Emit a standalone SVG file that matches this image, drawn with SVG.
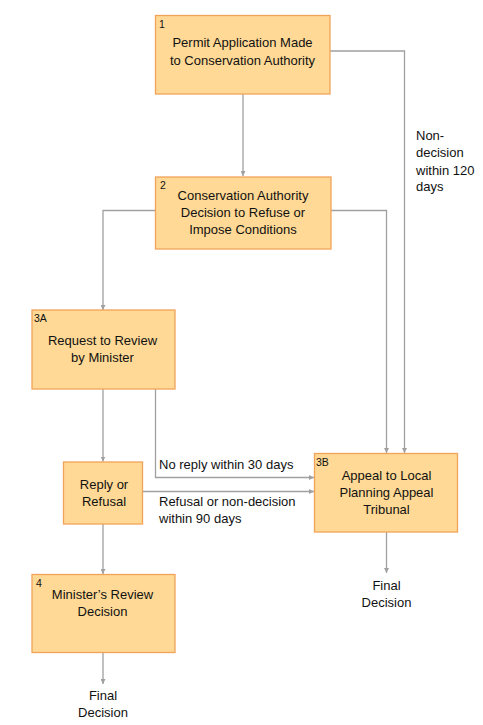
<svg xmlns="http://www.w3.org/2000/svg" width="483" height="725" viewBox="0 0 483 725">
<defs>
<style>
.box{fill:#FFD995;stroke:#F2A35A;stroke-width:1.3}
.t{font-family:"Liberation Sans",Arial,sans-serif;font-size:13px;fill:#111;text-anchor:middle}
.l{font-family:"Liberation Sans",Arial,sans-serif;font-size:13px;fill:#111}
.n{font-family:"Liberation Sans",Arial,sans-serif;font-size:10.5px;fill:#111}
.c{fill:none;stroke:#A0A0A0;stroke-width:1.3}
</style>
<marker id="ah" viewBox="0 0 10 10" refX="10" refY="5" markerWidth="5" markerHeight="5" orient="auto" markerUnits="userSpaceOnUse">
<path d="M0,0 L10,5 L0,10 Z" fill="#A0A0A0"/>
</marker>
</defs>
<rect width="483" height="725" fill="#fff"/>
<g id="connectors">
<path class="c" d="M243,94 V176" marker-end="url(#ah)"/>
<path class="c" d="M330,51 H404.5 V453" marker-end="url(#ah)"/>
<path class="c" d="M331,210.5 H386.5 V453" marker-end="url(#ah)"/>
<path class="c" d="M155,210.5 H103 V310" marker-end="url(#ah)"/>
<path class="c" d="M103,389 V461.5" marker-end="url(#ah)"/>
<path class="c" d="M155.5,389 V477.5 H314" marker-end="url(#ah)"/>
<path class="c" d="M143,491.5 H314" marker-end="url(#ah)"/>
<path class="c" d="M103,524 V574" marker-end="url(#ah)"/>
<path class="c" d="M103,652 V684" marker-end="url(#ah)"/>
<path class="c" d="M386.5,532 V573" marker-end="url(#ah)"/>
<text class="l" x="159" y="469">No reply within 30 days</text>
<text class="l" x="159" y="506">Refusal or non-decision</text>
<text class="l" x="159" y="523">within 90 days</text>
<text class="l" x="416" y="139.5">Non-</text>
<text class="l" x="416" y="157">decision</text>
<text class="l" x="416" y="174.5">within 120</text>
<text class="l" x="416" y="191">days</text>
</g>
<g id="node1">
<rect class="box" x="155.5" y="15.5" width="174.5" height="78.5"/>
<text class="n" x="159" y="28">1</text>
<text class="t" x="242.5" y="47">Permit Application Made</text>
<text class="t" x="242.5" y="64.5">to Conservation Authority</text>
</g>
<g id="node2">
<rect class="box" x="155.5" y="177" width="175.5" height="72"/>
<text class="n" x="160" y="189">2</text>
<text class="t" x="243" y="200">Conservation Authority</text>
<text class="t" x="243" y="217">Decision to Refuse or</text>
<text class="t" x="243" y="234">Impose Conditions</text>
</g>
<g id="node3A">
<rect class="box" x="32" y="310" width="143" height="79"/>
<text class="n" x="34" y="322">3A</text>
<text class="t" x="102.5" y="345">Request to Review</text>
<text class="t" x="102.5" y="362">by Minister</text>
</g>
<g id="nodeReply">
<rect class="box" x="63.5" y="462" width="79" height="62"/>
<text class="t" x="104" y="489">Reply or</text>
<text class="t" x="104" y="505.5">Refusal</text>
</g>
<g id="node3B">
<rect class="box" x="314.5" y="453.5" width="143" height="78.5"/>
<text class="n" x="316" y="466">3B</text>
<text class="t" x="386.5" y="480">Appeal to Local</text>
<text class="t" x="386.5" y="497">Planning Appeal</text>
<text class="t" x="386.5" y="514">Tribunal</text>
</g>
<g id="node4">
<rect class="box" x="32" y="574.5" width="143" height="78"/>
<text class="n" x="36" y="587">4</text>
<text class="t" x="102.5" y="598.5">Minister’s Review</text>
<text class="t" x="102.5" y="615.5">Decision</text>
</g>
<g id="final1">
<text class="t" x="103" y="699.5">Final</text>
<text class="t" x="103" y="717">Decision</text>
</g>
<g id="final2">
<text class="t" x="386.5" y="589.5">Final</text>
<text class="t" x="386.5" y="607">Decision</text>
</g>
</svg>
